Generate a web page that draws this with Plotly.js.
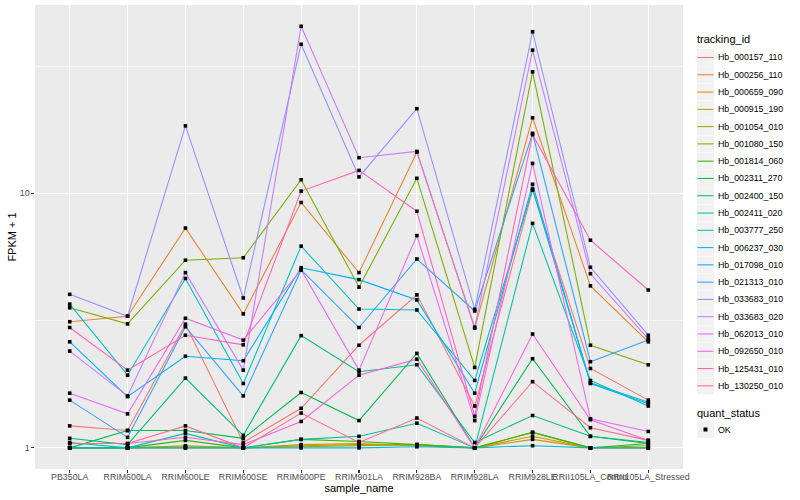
<!DOCTYPE html>
<html>
<head>
<meta charset="utf-8">
<script src="https://cdn.plot.ly/plotly-3.0.1.min.js"></script>
<style>html,body{margin:0;padding:0;background:#fff;}#chart{width:800px;height:500px;}</style>
</head>
<body>
<div id="chart"></div>
<script>
const sampleNames = ["PB350LA","RRIM600LA","RRIM600LE","RRIM600SE","RRIM600PE","RRIM901LA","RRIM928BA","RRIM928LA","RRIM928LE","RRII105LA_Control","RRII105LA_Stressed"];

const trackingIds = ["Hb_000157_110","Hb_000256_110","Hb_000659_090","Hb_000915_190","Hb_001054_010","Hb_001080_150","Hb_001814_060","Hb_002311_270","Hb_002400_150","Hb_002411_020","Hb_003777_250","Hb_006237_030","Hb_017098_010","Hb_021313_010","Hb_033683_010","Hb_033683_020","Hb_062013_010","Hb_092650_010","Hb_125431_010","Hb_130250_010"];

const quantStatus = ["OK"];

// FPKM + 1 values, one array per tracking_id, in sampleNames order
const Hb_000157_110 = [1.22, 1.17, 3.06, 1.05, 1.43, 2.53, 3.99, 1.46, 10.3, 2.05, 1.54];
const Hb_000256_110 = [3.13, 3.29, 7.3, 3.36, 9.2, 4.88, 14.5, 2.95, 19.8, 4.33, 2.61];
const Hb_000659_090 = [1.0, 1.0, 1.01, 1.0, 1.02, 1.03, 1.03, 1.0, 1.11, 1.0, 1.0];
const Hb_000915_190 = [1.0, 1.0, 1.0, 1.0, 1.03, 1.04, 1.02, 1.0, 1.08, 1.0, 1.0];
const Hb_001054_010 = [1.0, 1.0, 1.02, 1.0, 1.01, 1.02, 1.03, 1.0, 1.15, 1.0, 1.02];
const Hb_001080_150 = [3.55, 3.07, 5.46, 5.58, 11.3, 4.28, 11.45, 2.07, 30.0, 2.53, 2.12];
const Hb_001814_060 = [1.0, 1.0, 1.07, 1.0, 1.08, 1.06, 1.03, 1.0, 1.15, 1.0, 1.04];
const Hb_002311_270 = [1.0, 1.17, 1.17, 1.09, 1.65, 1.28, 2.35, 1.0, 2.24, 1.11, 1.04];
const Hb_002400_150 = [1.09, 1.03, 1.88, 1.12, 2.76, 1.99, 2.12, 1.05, 1.34, 1.11, 1.05];
const Hb_002411_020 = [1.05, 1.0, 1.14, 1.0, 1.08, 1.11, 1.25, 1.0, 7.62, 1.84, 1.46];
const Hb_003777_250 = [3.67, 1.93, 4.63, 1.79, 6.2, 3.51, 3.48, 1.84, 10.4, 1.80, 1.51];
const Hb_006237_030 = [1.0, 1.0, 1.0, 1.0, 1.0, 1.0, 1.01, 1.0, 1.02, 1.0, 1.0];
const Hb_017098_010 = [2.61, 1.59, 2.29, 2.2, 5.1, 4.58, 3.81, 1.64, 10.85, 1.79, 1.49];
const Hb_021313_010 = [1.54, 1.10, 2.99, 1.60, 5.0, 2.97, 5.52, 3.45, 17.2, 2.18, 2.65];
const Hb_033683_010 = [4.01, 3.29, 18.4, 3.88, 38.5, 11.6, 21.5, 3.5, 43.1, 5.12, 2.77];
const Hb_033683_020 = [2.40, 1.60, 4.88, 2.02, 45.3, 13.8, 14.6, 2.98, 36.5, 4.83, 2.68];
const Hb_062013_010 = [1.64, 1.36, 3.23, 2.65, 5.0, 2.02, 6.82, 1.28, 13.1, 1.30, 1.16];
const Hb_092650_010 = [1.04, 1.04, 1.10, 1.03, 1.27, 1.93, 2.23, 1.0, 2.80, 1.29, 1.07];
const Hb_125431_010 = [2.97, 2.02, 2.77, 2.54, 10.2, 12.3, 8.5, 1.33, 17.0, 6.54, 4.17];
const Hb_130250_010 = [1.04, 1.04, 1.22, 1.0, 1.37, 1.05, 1.31, 1.0, 1.82, 1.20, 1.07];

const seriesValues = [Hb_000157_110, Hb_000256_110, Hb_000659_090, Hb_000915_190, Hb_001054_010, Hb_001080_150, Hb_001814_060, Hb_002311_270, Hb_002400_150, Hb_002411_020, Hb_003777_250, Hb_006237_030, Hb_017098_010, Hb_021313_010, Hb_033683_010, Hb_033683_020, Hb_062013_010, Hb_092650_010, Hb_125431_010, Hb_130250_010];

const yTickVals = [1, 10];
const yTickText = ["1", "10"];
const yMinorVals = [3.1623, 31.623];

const hueColors = ["#F8766D","#EA8331","#D89000","#C09B00","#A3A500","#7CAE00","#39B600","#00BB4E","#00BF7D","#00C1A3","#00BFC4","#00BAE0","#00B0F6","#35A2FF","#9590FF","#C77CFF","#E76BF3","#FA62DB","#FF62BC","#FF6C91"];

const FONT = "Liberation Sans, Arial, Helvetica, sans-serif";

// plot area geometry (pixels) used to place the hand-built ggplot-style legend
const W = 800, H = 500;
const M = {l: 35, r: 117, t: 5, b: 31};
const PW = W - M.l - M.r, PH = H - M.t - M.b;
const px = v => (v - M.l) / PW;
const py = v => (H - M.b - v) / PH;

const traces = [];
trackingIds.forEach((id, i) => {
  traces.push({
    type: "scatter", mode: "lines", x: sampleNames, y: seriesValues[i], name: id,
    line: {color: hueColors[i], width: 1.07}, showlegend: false, hoverinfo: "name+y"
  });
});
trackingIds.forEach((id, i) => {
  traces.push({
    type: "scatter", mode: "markers", x: sampleNames, y: seriesValues[i], name: id,
    marker: {color: "#000000", symbol: "square", size: 3.6}, showlegend: false, hoverinfo: "skip"
  });
});

// legend (ggplot style: grey key boxes, coloured key lines)
const shapes = [], annotations = [];
const keyL = 697, keyR = 714, keyH = 17, textX = 716;
const firstY = 57.5, stepY = 17.28;
annotations.push({xref: "paper", yref: "paper", x: px(695), y: py(39), xanchor: "left", yanchor: "middle",
  text: "tracking_id", showarrow: false, font: {family: FONT, size: 11, color: "#000000"}});
trackingIds.forEach((id, i) => {
  const cy = firstY + i * stepY;
  shapes.push({type: "rect", xref: "paper", yref: "paper", x0: px(keyL), x1: px(keyR), y0: py(cy - keyH / 2), y1: py(cy + keyH / 2),
    fillcolor: "#F2F2F2", line: {width: 0}, layer: "above"});
  shapes.push({type: "line", xref: "paper", yref: "paper", x0: px(keyL + 0.5), x1: px(keyR - 0.5), y0: py(cy), y1: py(cy),
    line: {color: hueColors[i], width: 1.07}, layer: "above"});
  annotations.push({xref: "paper", yref: "paper", x: px(textX), y: py(cy), xanchor: "left", yanchor: "middle",
    text: id, showarrow: false, font: {family: FONT, size: 8.8, color: "#000000"}});
});
const qTitleY = 412.7, qKeyY = 429.5;
annotations.push({xref: "paper", yref: "paper", x: px(695), y: py(qTitleY), xanchor: "left", yanchor: "middle",
  text: "quant_status", showarrow: false, font: {family: FONT, size: 11, color: "#000000"}});
quantStatus.forEach((q, i) => {
  const cy = qKeyY + i * stepY;
  const cx = (keyL + keyR) / 2;
  shapes.push({type: "rect", xref: "paper", yref: "paper", x0: px(keyL), x1: px(keyR), y0: py(cy - keyH / 2), y1: py(cy + keyH / 2),
    fillcolor: "#F2F2F2", line: {width: 0}, layer: "above"});
  shapes.push({type: "rect", xref: "paper", yref: "paper", x0: px(cx - 2), x1: px(cx + 2), y0: py(cy - 2), y1: py(cy + 2),
    fillcolor: "#000000", line: {width: 0}, layer: "above"});
  annotations.push({xref: "paper", yref: "paper", x: px(textX), y: py(cy), xanchor: "left", yanchor: "middle",
    text: q, showarrow: false, font: {family: FONT, size: 8.8, color: "#000000"}});
});

const layout = {
  width: W, height: H,
  margin: M,
  paper_bgcolor: "#FFFFFF", plot_bgcolor: "#EBEBEB",
  font: {family: FONT, size: 8.8, color: "#4D4D4D"},
  showlegend: false,
  xaxis: {
    type: "category", range: [-0.6, 10.6], tickangle: 0,
    showgrid: true, gridcolor: "#FFFFFF", gridwidth: 1.07, zeroline: false, showline: false,
    ticks: "outside", ticklen: 2.7, tickcolor: "#333333", tickwidth: 1.07,
    ticklabelstandoff: -3,
    tickfont: {family: FONT, size: 8.8, color: "#4D4D4D"},
    title: {text: "sample_name", font: {family: FONT, size: 11, color: "#000000"}, standoff: 3},
    automargin: false, fixedrange: true
  },
  yaxis: {
    type: "log", range: [-0.083, 1.7396],
    tickmode: "array", tickvals: yTickVals, ticktext: yTickText,
    showgrid: true, gridcolor: "#FFFFFF", gridwidth: 1.07, zeroline: false, showline: false,
    ticks: "outside", ticklen: 2.7, tickcolor: "#333333", tickwidth: 1.07,
    tickfont: {family: FONT, size: 8.8, color: "#4D4D4D"},
    minor: {tickmode: "array", tickvals: yMinorVals, showgrid: true, gridcolor: "#FFFFFF", gridwidth: 0.55, ticks: ""},
    title: {text: "FPKM + 1", font: {family: FONT, size: 11, color: "#000000"}, standoff: 0},
    automargin: false, fixedrange: true
  },
  shapes: shapes,
  annotations: annotations
};

Plotly.newPlot("chart", traces, layout, {displayModeBar: false, staticPlot: true});
</script>
</body>
</html>
